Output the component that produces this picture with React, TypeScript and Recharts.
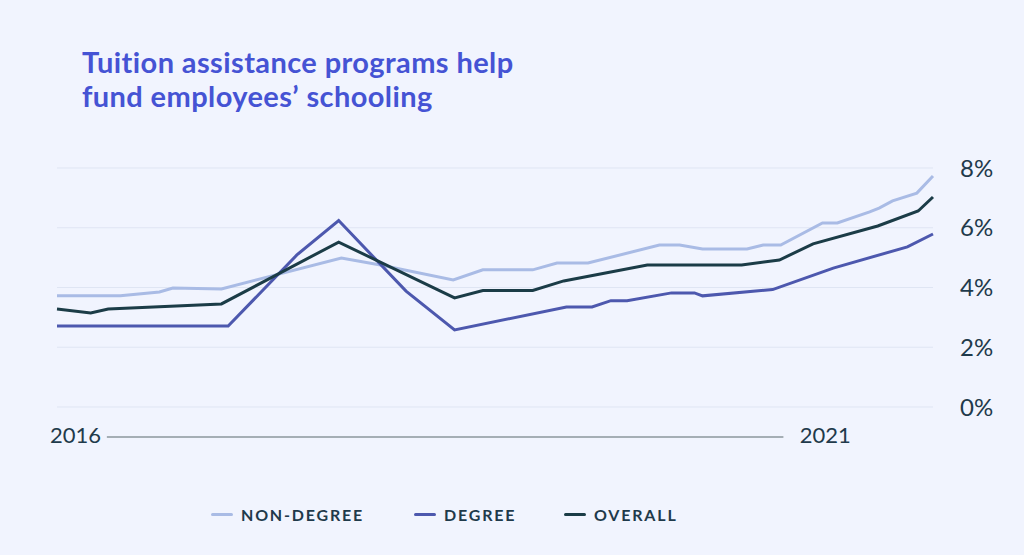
import React from "react";
import {
  LineChart,
  Line,
  XAxis,
  YAxis,
  CartesianGrid,
  ReferenceLine,
} from "recharts";

// x = months since Jan 2016, y = share of employers (%)
const nonDegreeX = [0, 4.7, 7.6, 8.6, 12.2, 21.1, 24.0, 29.4, 31.6, 35.3, 37.1, 39.4, 44.7, 46.2, 47.9, 51.2, 52.4, 53.7, 56.8, 57.9, 60.3, 61.0, 62.0, 63.8, 65];
const nonDegreeY = [3.72, 3.72, 3.85, 3.98, 3.95, 4.99, 4.75, 4.25, 4.59, 4.59, 4.82, 4.82, 5.42, 5.42, 5.29, 5.29, 5.42, 5.42, 6.16, 6.16, 6.53, 6.66, 6.9, 7.16, 7.73];

const degreeX = [0, 12.7, 17.8, 20.9, 25.9, 29.5, 37.8, 39.7, 41.1, 42.3, 45.6, 47.3, 47.9, 53.1, 57.6, 63.1, 65];
const degreeY = [2.71, 2.71, 5.09, 6.24, 3.88, 2.58, 3.35, 3.35, 3.56, 3.56, 3.82, 3.82, 3.72, 3.93, 4.65, 5.36, 5.79];

const overallX = [0, 2.5, 3.8, 12.2, 20.9, 29.5, 31.6, 35.3, 37.6, 43.8, 50.8, 53.6, 56.1, 60.9, 63.9, 65];
const overallY = [3.28, 3.15, 3.28, 3.45, 5.52, 3.65, 3.9, 3.9, 4.22, 4.75, 4.75, 4.92, 5.46, 6.06, 6.56, 7.03];

const yTicks = [0, 2, 4, 6, 8];
const yearTicks = [0, 57];
const yearLabels = ["2016", "2021"];
const yearRule = [3.7, 53.9];

const seriesNames = ["NON-DEGREE", "DEGREE", "OVERALL"];
const seriesColors = ["#a9bbe5", "#4d58ae", "#1b3c47"];

const toPoints = (xs: number[], ys: number[]) => xs.map((t, i) => ({ t, v: ys[i] }));

const TEXT = "#1f3a4b";
const FONT = "Lato, 'Open Sans', sans-serif";

function YearTick(props: any) {
  const { x, y, index } = props;
  return (
    <text
      x={index === 0 ? x - 7 : x}
      y={y}
      dy={8}
      textAnchor={index === 0 ? "start" : "middle"}
      fill={TEXT}
      fontSize={22}
      fontFamily={FONT}
    >
      {yearLabels[index]}
    </text>
  );
}

function LegendBox() {
  return (
    <div style={styles.legend}>
      {seriesNames.map((name, i) => (
        <div
          key={name}
          style={{
            position: "absolute",
            left: [211, 414, 564][i],
            display: "flex",
            alignItems: "center",
            gap: 8,
          }}
        >
          <span style={{ width: 22, height: 3, borderRadius: 2, background: seriesColors[i], display: "inline-block" }} />
          <span style={{ color: TEXT, fontFamily: FONT, fontWeight: 700, fontSize: 16, letterSpacing: 1.8 }}>{name}</span>
        </div>
      ))}
    </div>
  );
}

export default function App() {
  const series = [
    toPoints(nonDegreeX, nonDegreeY),
    toPoints(degreeX, degreeY),
    toPoints(overallX, overallY),
  ];

  return (
    <div style={styles.page}>
      <div style={styles.title}>
        Tuition assistance programs help
        <br />
        fund employees’ schooling
      </div>
      <LineChart width={1024} height={555} margin={{ top: 168, right: 31, bottom: 108, left: 57 }}>
        <CartesianGrid stroke="#dfe5f3" vertical={false} />
        <XAxis
          type="number"
          dataKey="t"
          domain={[0, 65]}
          ticks={yearTicks}
          tick={<YearTick />}
          axisLine={false}
          tickLine={false}
          tickSize={0}
          tickMargin={28}
          height={40}
        />
        <YAxis
          orientation="right"
          domain={[0, 8]}
          ticks={yTicks}
          tickFormatter={(v: number) => `${v}%`}
          tick={{ fill: TEXT, fontSize: 24, fontFamily: FONT }}
          axisLine={false}
          tickLine={false}
          tickSize={0}
          tickMargin={27}
          width={60}
        />
        <ReferenceLine
          segment={[{ x: yearRule[0], y: -1 }, { x: yearRule[1], y: -1 }]}
          stroke="#8b979d"
          strokeWidth={1.5}
          ifOverflow="visible"
        />
        {series.map((pts, i) => (
          <Line
            key={seriesNames[i]}
            data={pts}
            dataKey="v"
            name={seriesNames[i]}
            type="linear"
            stroke={seriesColors[i]}
            strokeWidth={3}
            dot={false}
            activeDot={false}
            isAnimationActive={false}
          />
        ))}
      </LineChart>
      <LegendBox />
    </div>
  );
}

const styles = {
  page: {
    position: "absolute",
    left: 0,
    top: 0,
    width: 1024,
    height: 555,
    background: "#f1f4fe",
    overflow: "hidden",
  } as React.CSSProperties,
  title: {
    position: "absolute",
    left: 82,
    top: 45,
    color: "#4553d4",
    fontFamily: FONT,
    fontWeight: 700,
    fontSize: 29,
    letterSpacing: 0.4,
    lineHeight: "34px",
  } as React.CSSProperties,
  legend: {
    position: "absolute",
    left: 0,
    top: 505,
    width: 1024,
    height: 24,
  } as React.CSSProperties,
};
